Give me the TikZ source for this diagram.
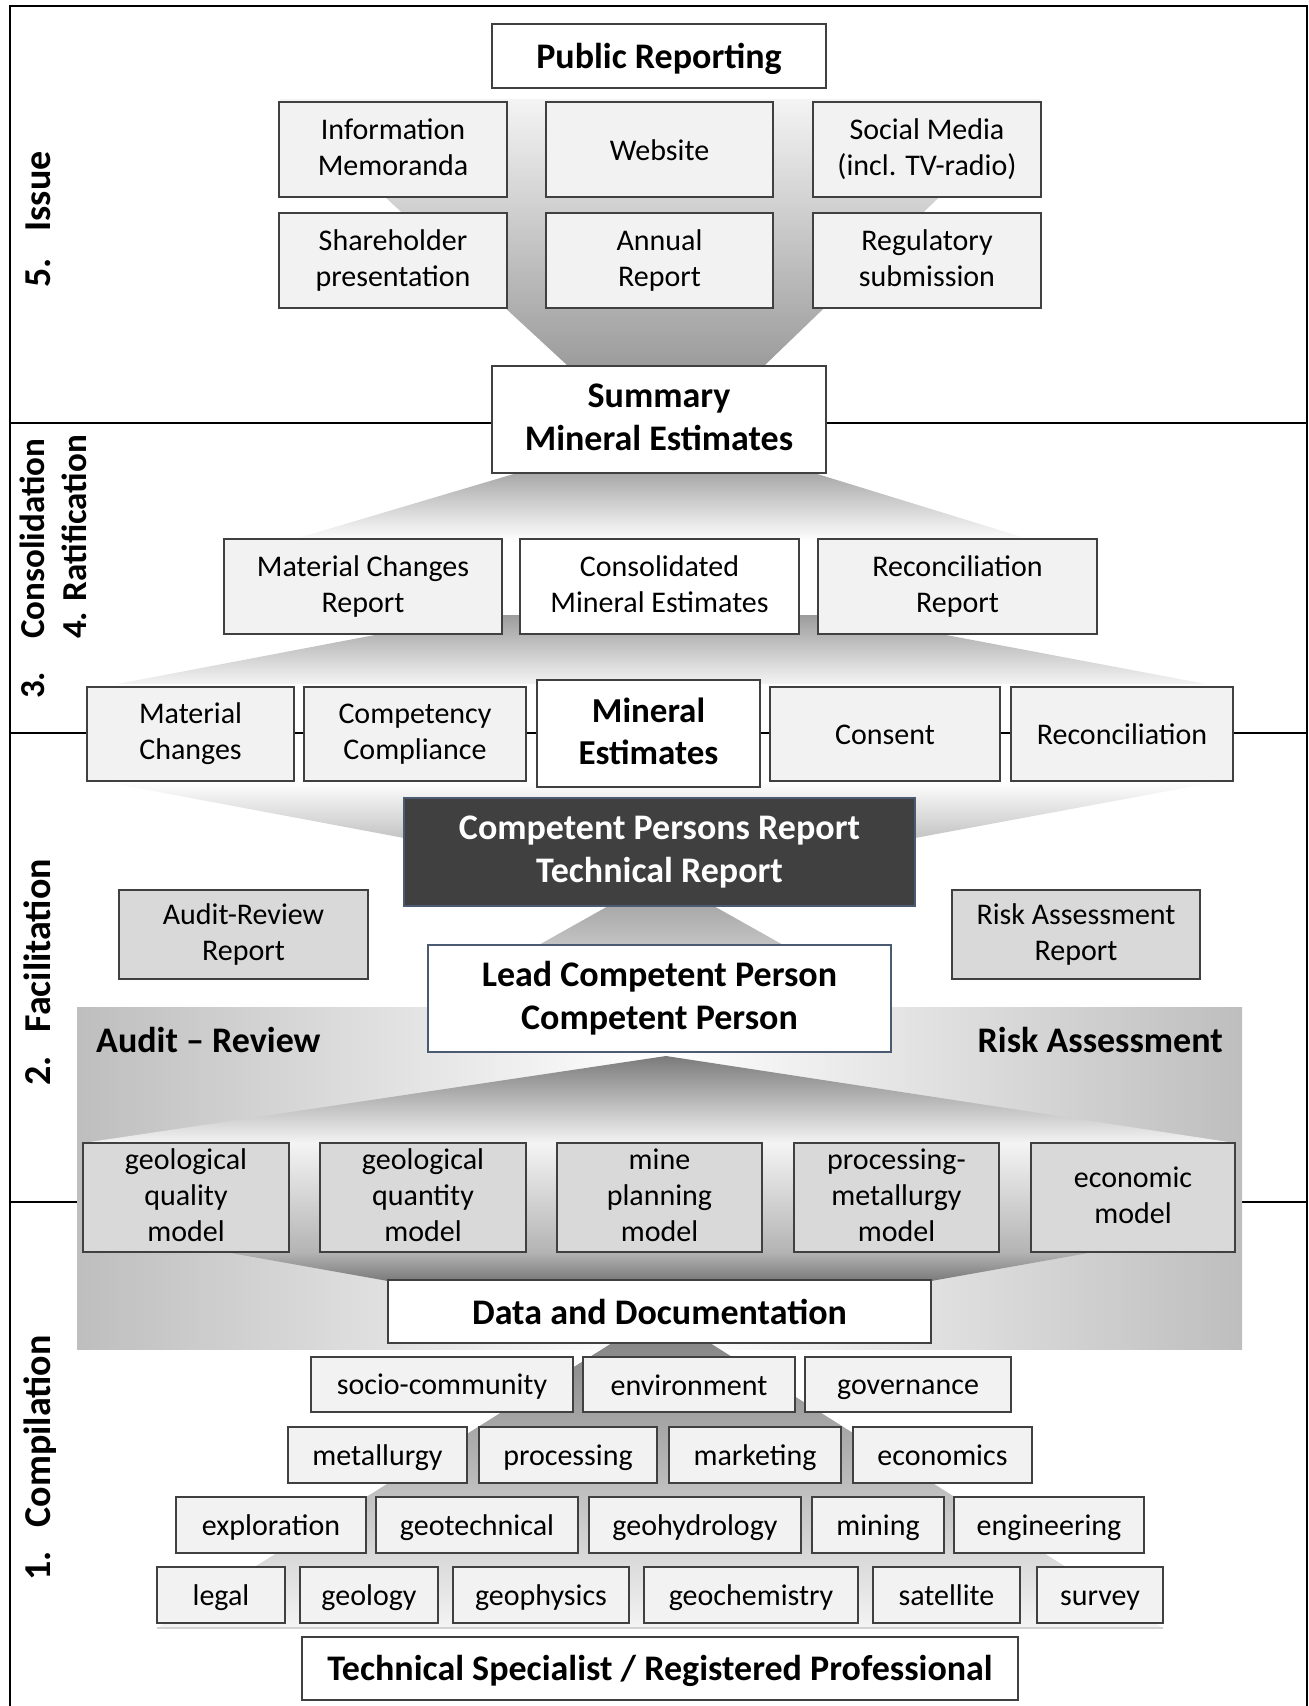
\documentclass[tikz,border=0pt]{standalone}
\usepackage{fontspec}
\setmainfont{Carlito}
\definecolor{lightf}{HTML}{F2F2F2}
\definecolor{modelf}{HTML}{D9D9D9}
\definecolor{bordc}{HTML}{404040}
\definecolor{darkf}{HTML}{404040}
\definecolor{blueb}{HTML}{4A5A70}
\definecolor{gA}{HTML}{F4F4F4}
\definecolor{gB}{HTML}{9C9C9C}
\definecolor{gC}{HTML}{A8A8A8}
\definecolor{gD}{HTML}{C4C4C4}
\definecolor{gE}{HTML}{7A7A7A}
\definecolor{gF}{HTML}{B4B4B4}
\definecolor{gR}{HTML}{BEBEBE}
\newcommand\fReg{\fontsize{30}{36}\selectfont}
\newcommand\fBold{\fontsize{36}{43}\selectfont\bfseries}
\newcommand\fMid{\fontsize{35}{42}\selectfont\bfseries}
\newcommand\fSide{\fontsize{38}{44}\selectfont\bfseries}
\newcommand\fSideB{\fontsize{35}{42}\selectfont\bfseries}
\newcommand\stX{\rule[-0.13em]{0pt}{0.97em}}
\newcommand\bx[7]{\node[#2, minimum width={(#5)-(#3)}, minimum height={(#6)-(#4)}] (#1) at ({((#3)+(#5))/2},{((#4)+(#6))/2}) {#7};}
\tikzset{
  lbox/.style={draw=bordc, fill=lightf, line width=1.2pt, align=center, font=\fReg, inner sep=0pt,
    execute at begin node=\stX, execute at end node=\stX},
  wbox/.style={lbox, fill=white},
  wbold/.style={lbox, fill=white, font=\fBold},
  mbox/.style={lbox, fill=modelf},
  cbox/.style={lbox, fill=darkf, draw=blueb, text=white, font=\fBold},
  sect/.style={line width=2pt, black},
  side/.style={rotate=90, anchor=base west, inner sep=0pt, font=\fSide},
  sideb/.style={rotate=90, anchor=base west, inner sep=0pt, font=\fSideB},
}
\begin{document}
\begin{tikzpicture}[x=1pt,y=-1pt]
\useasboundingbox (0,0) rectangle (1309,1706);
% section lines
\coordinate (l1a) at (10,423); \coordinate (l1b) at (1307,423);
\coordinate (l2a) at (10,733); \coordinate (l2b) at (1307,733);
\coordinate (l3a) at (10,1202); \coordinate (l3b) at (1307,1202);
\draw[sect] (l1a) -- (l1b);
\draw[sect] (l2a) -- (l2b);
\draw[sect] (l3a) -- (l3b);
% frame
\draw[line width=2pt] (10,1706) -- (10,6) -- (1307,6) -- (1307,1706);
% funnel shapes
\shade[top color=gA, bottom color=gB] (279,99) -- (1041,99) -- (764,366) -- (568,366) -- cycle;
\shade[top color=gC, bottom color=white] (517,473) -- (814,473) -- (1035,541) -- (288,541) -- cycle;
\shade[top color=gB, bottom color=gA] (480,615) -- (840,615) -- (1206,684) -- (117,684) -- cycle;
\shade[top color=white, bottom color=gD] (100,781) -- (1222,781) -- (915,838) -- (404,838) -- cycle;
\shade[top color=gC, bottom color=gD] (610,905) -- (712,905) -- (785,946) -- (537,946) -- cycle;
\shade[left color=gR, right color=gR, middle color=white] (77,1007) rectangle (1242,1349);
\shade[top color=gE, bottom color=gA] (666,1056) -- (1235,1143) -- (83,1143) -- cycle;
\shade[top color=gA, bottom color=gF] (83,1143) rectangle (1235,1252);
\shade[top color=gF, bottom color=gE] (225,1252) -- (1094,1252) -- (931,1281) -- (388,1281) -- cycle;
\shade[top color=gE!90!white, bottom color=gA] (612,1343) -- (710,1343) -- (1163,1628) -- (157,1628) -- cycle;
\draw[line width=2pt, gray!35] (157,1628) -- (1163,1628);
% section 5
\bx{pub}{wbold}{492}{24}{826}{88}{Public Reporting}
\bx{info}{lbox}{279}{102}{507}{197}{Information\\Memoranda}
\bx{web}{lbox}{546}{102}{773}{197}{Website}
\bx{soc}{lbox}{813}{102}{1041}{197}{Social Media\\(incl. TV-radio)}
\bx{share}{lbox}{279}{213}{507}{308}{Shareholder\\presentation}
\bx{annual}{lbox}{546}{213}{773}{308}{Annual\\Report}
\bx{regsub}{lbox}{813}{213}{1041}{308}{Regulatory\\submission}
\bx{summ}{wbold}{492}{366}{826}{473}{Summary\\Mineral Estimates}
% section 4
\bx{mcr}{lbox}{224}{539}{502}{634}{Material Changes\\Report}
\bx{cons}{wbox}{520}{539}{799}{634}{Consolidated\\Mineral Estimates}
\bx{recr}{lbox}{818}{539}{1097}{634}{Reconciliation\\Report}
% section 3
\bx{mat}{lbox}{87}{687}{294}{781}{Material\\Changes}
\bx{comp}{lbox}{304}{687}{526}{781}{Competency\\Compliance}
\bx{mine}{wbox, font=\fMid}{537}{680}{760}{787}{Mineral\\Estimates}
\bx{consent}{lbox}{770}{687}{1000}{781}{Consent}
\bx{recon}{lbox}{1011}{687}{1233}{781}{Reconciliation}
% section 2
\bx{cpr}{cbox}{404}{798}{915}{906}{Competent Persons Report\\Technical Report}
\bx{ar}{mbox}{119}{890}{368}{979}{Audit-Review\\Report}
\bx{rar}{mbox}{952}{890}{1200}{979}{Risk Assessment\\Report}
\bx{lcp}{wbold, draw=blueb}{428}{945}{891}{1052}{Lead Competent Person\\Competent Person}
\node[anchor=west, inner sep=0pt, font=\fBold] (audit) at (96,1040) {Audit – Review};
\node[anchor=east, inner sep=0pt, font=\fBold] (risk) at (1223,1040) {Risk Assessment};
\bx{m1}{mbox}{83}{1143}{289}{1252}{geological\\quality\\model}
\bx{m2}{mbox}{320}{1143}{526}{1252}{geological\\quantity\\model}
\bx{m3}{mbox}{557}{1143}{762}{1252}{mine\\planning\\model}
\bx{m4}{mbox}{794}{1143}{999}{1252}{processing-\\metallurgy\\model}
\bx{m5}{mbox}{1031}{1143}{1235}{1252}{economic\\model}
% section 1
\bx{data}{wbold}{388}{1280}{931}{1343}{Data and Documentation}
\bx{a1}{lbox}{311}{1357}{573}{1412}{socio-community}
\bx{a2}{lbox}{583}{1357}{795}{1412}{environment}
\bx{a3}{lbox}{805}{1357}{1011}{1412}{governance}
\bx{b1}{lbox}{288}{1427}{467}{1483}{metallurgy}
\bx{b2}{lbox}{479}{1427}{657}{1483}{processing}
\bx{b3}{lbox}{669}{1427}{841}{1483}{marketing}
\bx{b4}{lbox}{853}{1427}{1032}{1483}{economics}
\bx{c1}{lbox}{176}{1497}{366}{1553}{exploration}
\bx{c2}{lbox}{376}{1497}{578}{1553}{geotechnical}
\bx{c3}{lbox}{589}{1497}{801}{1553}{geohydrology}
\bx{c4}{lbox}{812}{1497}{944}{1553}{mining}
\bx{c5}{lbox}{954}{1497}{1144}{1553}{engineering}
\bx{d1}{lbox}{157}{1567}{285}{1623}{legal}
\bx{d2}{lbox}{300}{1567}{438}{1623}{geology}
\bx{d3}{lbox}{453}{1567}{629}{1623}{geophysics}
\bx{d4}{lbox}{644}{1567}{858}{1623}{geochemistry}
\bx{d5}{lbox}{873}{1567}{1020}{1623}{satellite}
\bx{d6}{lbox}{1037}{1567}{1163}{1623}{survey}
\bx{tsp}{wbold}{302}{1637}{1018}{1700}{Technical Specialist / Registered Professional}
% side labels
\node[side] (s5) at (50,288) {5.\hspace{27pt}Issue};
\node[sideb] (s3n) at (44,699) {3.};
\node[sideb] (s3) at (44,639) {Consolidation};
\node[sideb] (s4) at (86,639) {4. Ratification};
\node[side] (s2) at (50,1086) {2.\hspace{24pt}Facilitation};
\node[side] (s1) at (50,1581) {1.\hspace{24pt}Compilation};
\end{tikzpicture}
\end{document}
